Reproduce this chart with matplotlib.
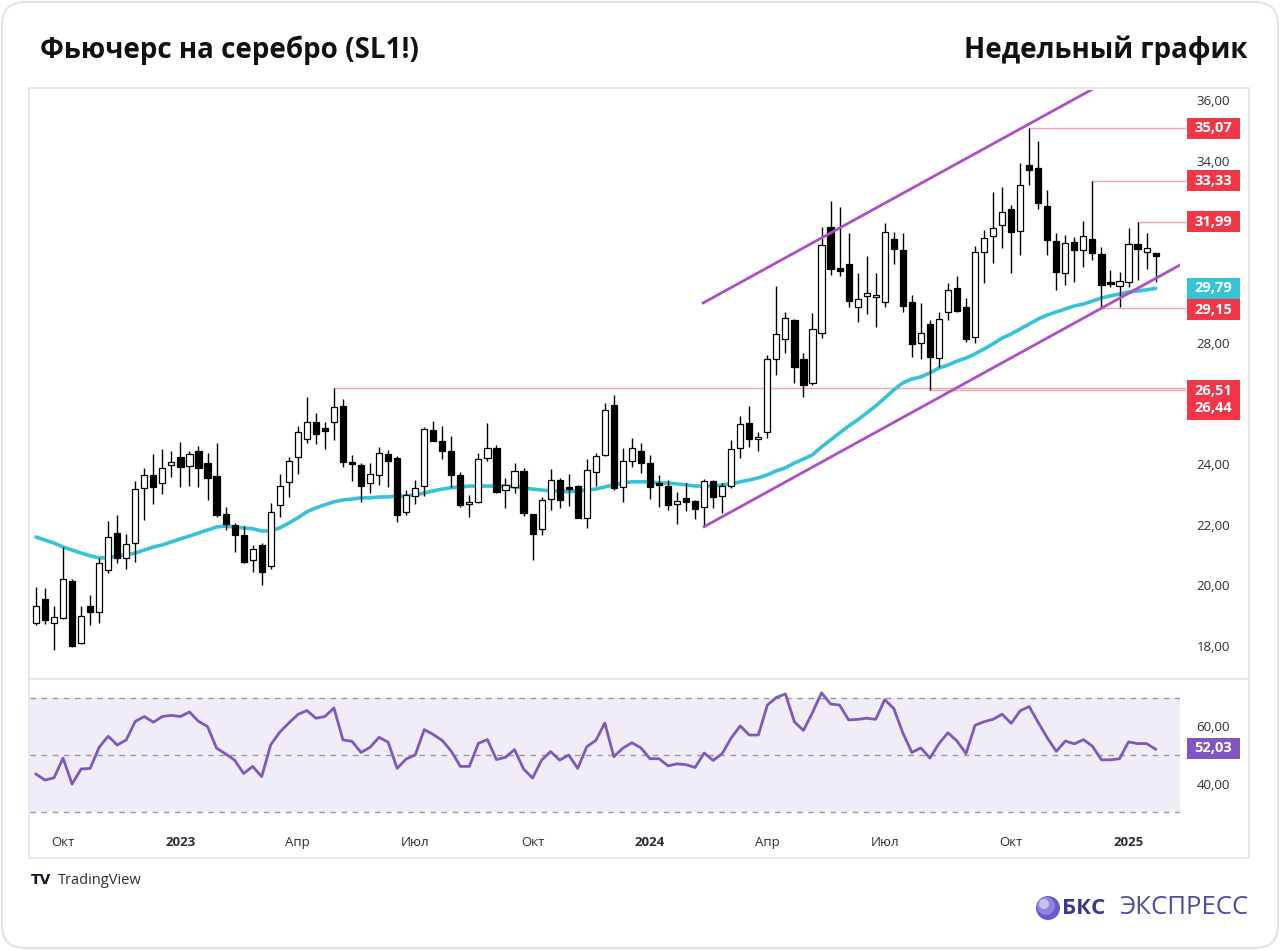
import matplotlib
matplotlib.use("Agg")
import matplotlib.pyplot as plt
from matplotlib.patches import FancyBboxPatch, Rectangle, Circle
from matplotlib.lines import Line2D
from matplotlib.transforms import IdentityTransform, blended_transform_factory

plt.rcParams['font.family'] = ['Open Sans', 'DejaVu Sans']

# Weekly OHLC, silver futures (SL1!), one entry per week
opens = [18.75, 19.54, 18.77, 18.92, 20.14, 18.09, 19.33, 19.13, 20.50, 21.71,
         20.91, 21.38, 23.20, 23.62, 23.36, 23.98, 24.24, 23.94, 24.41, 24.02,
         23.60, 22.34, 21.99, 21.64, 20.83, 21.33, 20.62, 22.65, 23.40, 24.22,
         24.81, 25.39, 25.15, 25.37, 25.91, 24.06, 23.97, 23.36, 23.64, 24.33,
         24.21, 22.40, 22.94, 23.27, 25.12, 24.74, 24.41, 23.64, 22.68, 22.73,
         24.19, 24.54, 23.14, 23.25, 23.78, 22.34, 21.85, 22.84, 23.47, 23.22,
         23.28, 22.23, 23.72, 24.30, 25.94, 23.25, 24.08, 24.43, 24.02, 23.33,
         23.28, 22.68, 22.87, 22.79, 22.57, 23.42, 22.94, 23.27, 24.52, 25.36,
         24.82, 25.06, 27.46, 28.11, 28.73, 27.45, 26.68, 28.33, 31.80, 30.45,
         30.59, 29.19, 29.55, 29.50, 29.35, 31.41, 31.05, 29.35, 28.00, 28.60,
         27.48, 29.02, 29.81, 29.19, 28.20, 31.00, 31.50, 31.88, 32.40, 31.68,
         33.86, 33.77, 32.50, 31.36, 30.29, 31.33, 31.05, 31.41, 30.92, 29.98,
         29.88, 29.99, 31.24, 31.00, 30.95]
highs = [19.94, 19.90, 19.30, 21.27, 20.20, 19.32, 19.68, 20.90, 22.12, 22.32,
         21.68, 23.42, 23.86, 24.33, 24.48, 24.44, 24.73, 24.41, 24.60, 24.37,
         24.70, 22.59, 22.05, 21.94, 21.33, 21.38, 22.70, 23.66, 24.24, 25.25,
         26.20, 25.67, 25.39, 26.51, 26.13, 24.30, 24.02, 24.02, 24.57, 24.46,
         24.25, 23.14, 23.47, 25.23, 25.43, 25.26, 24.92, 23.72, 22.98, 24.37,
         25.34, 24.63, 23.53, 24.02, 23.86, 22.36, 22.92, 23.82, 23.53, 23.67,
         23.30, 24.16, 24.35, 26.00, 26.27, 24.52, 24.85, 24.70, 24.30, 23.64,
         23.47, 23.09, 23.36, 22.82, 23.50, 23.47, 23.36, 24.79, 25.58, 25.91,
         25.06, 27.59, 29.87, 29.02, 28.78, 27.67, 28.97, 31.80, 32.68, 32.48,
         31.60, 30.31, 30.86, 30.29, 31.93, 31.66, 31.60, 29.57, 29.32, 28.75,
         29.02, 29.98, 30.18, 29.46, 31.19, 31.71, 32.98, 33.14, 32.54, 33.91,
         35.07, 34.66, 33.03, 31.60, 31.55, 31.49, 32.01, 33.33, 31.16, 30.39,
         30.32, 31.77, 31.99, 31.63, 30.97]
lows = [18.70, 18.72, 17.87, 18.90, 17.95, 18.05, 18.69, 18.77, 20.39, 20.73,
        20.54, 20.78, 22.15, 22.68, 23.01, 23.58, 23.25, 23.27, 23.25, 22.81,
        22.26, 21.82, 21.11, 20.73, 20.45, 20.00, 20.55, 22.26, 22.92, 23.67,
        24.68, 24.66, 24.49, 24.79, 23.89, 23.45, 22.76, 23.03, 23.31, 23.25,
        22.10, 22.32, 22.68, 22.94, 24.74, 24.16, 23.23, 22.57, 22.26, 22.70,
        24.08, 23.05, 22.54, 23.03, 22.29, 20.83, 21.66, 22.48, 22.54, 22.61,
        22.20, 21.90, 23.27, 24.25, 23.15, 22.76, 23.89, 23.69, 22.84, 22.59,
        22.48, 22.02, 22.46, 22.18, 21.93, 22.54, 22.38, 23.20, 24.19, 24.57,
        24.44, 24.85, 26.93, 27.65, 26.68, 26.22, 26.60, 28.15, 30.23, 30.20,
        29.19, 28.69, 28.94, 28.53, 29.19, 30.59, 29.02, 27.54, 27.45, 26.44,
        27.21, 28.75, 29.00, 28.03, 28.00, 29.98, 30.62, 31.11, 30.31, 30.89,
        33.20, 32.40, 30.89, 29.74, 29.90, 30.01, 30.50, 30.72, 29.15, 29.85,
        29.17, 29.85, 30.07, 30.42, 30.01]
closes = [19.32, 18.86, 18.96, 20.21, 18.01, 19.00, 19.10, 20.74, 21.60, 20.91,
          21.35, 23.17, 23.64, 23.25, 23.86, 24.02, 23.91, 24.33, 23.88, 23.55,
          22.32, 22.02, 21.66, 20.75, 21.19, 20.42, 22.43, 23.28, 24.10, 25.04,
          25.39, 24.99, 25.10, 25.87, 24.07, 24.00, 23.27, 23.67, 24.37, 24.08,
          22.30, 22.98, 23.20, 25.15, 24.77, 24.44, 23.64, 22.65, 22.72, 24.16,
          24.52, 23.09, 23.31, 23.78, 22.38, 21.68, 22.81, 23.47, 22.81, 23.18,
          22.23, 23.80, 24.27, 25.78, 23.20, 24.10, 24.52, 24.02, 23.23, 23.29,
          22.65, 22.79, 22.74, 22.52, 23.42, 22.92, 23.27, 24.48, 25.31, 24.81,
          24.88, 27.45, 28.27, 28.80, 27.21, 26.60, 28.44, 31.22, 30.43, 30.36,
          29.38, 29.43, 29.60, 29.55, 31.66, 31.08, 29.21, 27.95, 28.31, 27.52,
          28.78, 29.74, 29.05, 28.11, 31.00, 31.44, 31.77, 32.32, 31.66, 33.20,
          33.69, 32.62, 31.38, 30.34, 31.28, 31.05, 31.52, 30.97, 29.90, 29.94,
          30.04, 31.24, 31.09, 31.13, 30.85]

# moving average
ma_line = [21.59, 21.49, 21.39, 21.26, 21.16, 21.06, 20.97, 20.90, 20.90, 20.97,
           21.00, 21.06, 21.16, 21.26, 21.33, 21.43, 21.53, 21.62, 21.72, 21.82,
           21.92, 21.95, 21.92, 21.89, 21.86, 21.79, 21.79, 21.89, 22.05, 22.22,
           22.42, 22.55, 22.65, 22.75, 22.81, 22.84, 22.88, 22.88, 22.91, 22.91,
           22.94, 22.94, 22.98, 23.04, 23.11, 23.17, 23.21, 23.24, 23.27, 23.27,
           23.27, 23.27, 23.27, 23.24, 23.21, 23.17, 23.14, 23.11, 23.11, 23.08,
           23.11, 23.14, 23.17, 23.24, 23.31, 23.37, 23.41, 23.41, 23.41, 23.37,
           23.37, 23.34, 23.31, 23.27, 23.27, 23.27, 23.31, 23.34, 23.41, 23.47,
           23.54, 23.64, 23.77, 23.87, 24.03, 24.16, 24.30, 24.56, 24.79, 25.02,
           25.25, 25.45, 25.68, 25.91, 26.17, 26.44, 26.67, 26.80, 26.87, 27.00,
           27.16, 27.26, 27.39, 27.49, 27.63, 27.79, 27.96, 28.15, 28.28, 28.45,
           28.61, 28.78, 28.91, 29.01, 29.11, 29.21, 29.27, 29.37, 29.47, 29.54,
           29.60, 29.67, 29.70, 29.74, 29.79]

# RSI values
rsi = [43.3, 41.2, 42.0, 48.9, 39.8, 45.1, 45.3, 52.7, 56.6, 53.5,
       55.3, 61.8, 63.5, 61.5, 63.5, 63.9, 63.5, 65.1, 61.8, 60.0,
       52.4, 50.4, 48.2, 43.5, 46.0, 42.4, 53.6, 58.0, 61.2, 64.2,
       65.6, 62.9, 63.5, 66.5, 55.3, 54.8, 50.9, 52.7, 56.2, 54.5,
       45.3, 48.6, 50.0, 58.9, 57.2, 55.1, 51.3, 46.0, 46.0, 54.1,
       55.4, 48.4, 49.2, 51.9, 45.1, 41.9, 48.2, 51.2, 48.2, 50.0,
       45.3, 52.9, 55.1, 61.2, 49.4, 52.4, 54.3, 52.5, 48.7, 48.7,
       46.2, 46.9, 46.6, 45.6, 50.7, 48.1, 50.5, 56.0, 60.2, 57.0,
       57.0, 67.5, 70.2, 71.4, 61.6, 58.6, 64.9, 71.8, 67.9, 67.5,
       62.3, 62.5, 62.9, 62.5, 69.4, 66.3, 57.8, 50.9, 52.5, 48.9,
       54.0, 57.8, 54.9, 50.5, 60.4, 61.7, 62.5, 64.3, 61.1, 65.5,
       67.0, 61.4, 56.0, 51.3, 54.9, 53.9, 55.4, 53.1, 48.3, 48.3,
       48.7, 54.6, 54.0, 54.0, 52.03]

# time axis labels (bar index -> label)
tick_idx = [3, 16, 29, 42, 55, 68, 81, 94, 108, 121]
tick_lab = ["Окт", "2023", "Апр", "Июл", "Окт", "2024", "Апр", "Июл", "Окт", "2025"]

# price scale ticks; 26 and 32 sit under the level labels
price_ticks = [18, 20, 22, 24, 28, 30, 34, 36]

# marked levels: (price, bar where the line starts)
levels = [(35.07, 110), (33.33, 117), (31.99, 122), (29.15, 118), (26.51, 33), (26.44, 99)]

# channel lines: (bar, price) endpoints
lower_channel = [(74, 21.93), (127.5, 30.69)]
upper_channel = [(73.9, 29.31), (118.0, 36.52)]

W, H = 1280, 951
fig = plt.figure(figsize=(12.8, 9.51), dpi=100)
fig.patch.set_facecolor('white')


def fx(px):
    return px / W


def fy(py):
    return 1 - py / H


# card outline and chart frame (behind the axes)
fig.patches.append(FancyBboxPatch((fx(2), fy(948)), fx(1276), 946 / H,
                                  boxstyle="round,pad=0,rounding_size=0.018",
                                  transform=fig.transFigure, facecolor='white',
                                  edgecolor='#e4e4e4', lw=1.5, mutation_aspect=1.34,
                                  zorder=-2))
fig.patches.append(Rectangle((fx(29), fy(858)), fx(1220), 770 / H, transform=fig.transFigure,
                             facecolor='none', edgecolor='#e0e3eb', lw=1.2, zorder=-1))
fig.add_artist(Line2D([fx(29), fx(1249)], [fy(679), fy(679)], color='#e0e3eb', lw=1.2,
                      zorder=-1))

ax = fig.add_axes([fx(30), fy(678), fx(1150), 588 / H])
rsi_ax = fig.add_axes([fx(30), fy(828), fx(1150), 148 / H])
ax.set_facecolor('none')
rsi_ax.set_facecolor('none')

xlim = (-0.66, 126.7)
idx = list(range(len(opens)))

# candles: wicks first, bodies on top
ax.vlines(idx, lows, highs, color='black', lw=1.0, zorder=3)
for i in idx:
    o, c = opens[i], closes[i]
    up = c >= o
    body = max(abs(c - o), 0.07)
    ax.bar(i, body, bottom=min(o, c), width=0.68, color='white' if up else 'black',
           edgecolor='black', linewidth=0.9, zorder=4)

# moving average
ax.plot(idx, ma_line, color='#35c3d8', lw=2.6, zorder=2, solid_capstyle='round')

# channel
for line in (lower_channel, upper_channel):
    ax.plot([p[0] for p in line], [p[1] for p in line], color='#b04cc8', lw=2, zorder=5)

# level lines going to the price scale
for price, start in levels:
    ax.plot([start, xlim[1] + 0.5], [price, price], color='#f4a3a9', lw=1,
            zorder=1, clip_on=False)

ax.set_xlim(*xlim)
ax.set_ylim(16.94, 36.33)
ax.set_xticks([])
ax.yaxis.tick_right()
ax.set_yticks(price_ticks)
ax.set_yticklabels([f"{v:.2f}".replace('.', ',') for v in price_ticks])
ax.tick_params(axis='y', length=0, pad=12, labelsize=9.5, labelcolor='#2a2e39')
for s in ax.spines.values():
    s.set_visible(False)

# price labels on the scale: box from x=1187 to 1240 px
bx0 = (1187 - 30) / 1150
bw = 53 / 1150


def scale_label(a, y, text, color, h_px, px_per_unit):
    trans = blended_transform_factory(a.transAxes, a.transData)
    h = h_px / px_per_unit
    a.add_patch(Rectangle((bx0, y - h / 2), bw, h, transform=trans, facecolor=color,
                          edgecolor='none', clip_on=False, zorder=19))
    a.text(bx0 + bw / 2, y, text, transform=trans, ha='center', va='center', color='white',
           fontsize=10.5, fontweight='bold', clip_on=False, zorder=20, linespacing=1.3)


ppu = 588 / (36.33 - 16.94)
scale_label(ax, 35.07, "35,07", '#f23645', 21, ppu)
scale_label(ax, 33.33, "33,33", '#f23645', 21, ppu)
scale_label(ax, 31.99, "31,99", '#f23645', 21, ppu)
scale_label(ax, 29.79, "29,79", '#35c3d8', 21, ppu)
scale_label(ax, 29.09, "29,15", '#f23645', 21, ppu)
scale_label(ax, 26.12, "26,51\n26,44", '#f23645', 40, ppu)

# RSI pane
rsi_ax.axhspan(30, 70, color='#7e57c2', alpha=0.1, lw=0, zorder=0)
for lvl in (70, 50, 30):
    rsi_ax.axhline(lvl, color='#9598a1', lw=1, linestyle=(0, (4, 4)), zorder=1)
rsi_ax.plot(idx, rsi, color='#7e57c2', lw=2, zorder=3)
rsi_ax.set_xlim(*xlim)
rsi_ax.set_ylim(24.4, 76.3)
rsi_ax.yaxis.tick_right()
rsi_ax.set_yticks([40, 60])
rsi_ax.set_yticklabels(["40,00", "60,00"])
rsi_ax.tick_params(axis='y', length=0, pad=12, labelsize=9.5, labelcolor='#2a2e39')
rsi_ax.set_xticks(tick_idx)
rsi_ax.set_xticklabels(tick_lab)
rsi_ax.tick_params(axis='x', length=0, pad=6, labelsize=9.5, labelcolor='#2a2e39')
for lab in rsi_ax.get_xticklabels():
    if lab.get_text().isdigit():
        lab.set_fontweight('bold')
for s in rsi_ax.spines.values():
    s.set_visible(False)
scale_label(rsi_ax, 52.3, "52,03", '#7e57c2', 21, 148 / (76.3 - 24.4))

# titles
fig.text(fx(40), fy(50), "Фьючерс на серебро (SL1!)", fontsize=20, fontweight='bold',
         va='center', ha='left', color='#111111')
fig.text(fx(1248), fy(50), "Недельный график", fontsize=20, fontweight='bold',
         va='center', ha='right', color='#111111')

# footer
fig.text(fx(31), fy(880), "TV", fontsize=10, fontweight='heavy', va='center', color='#131722',
         family='DejaVu Sans')
fig.text(fx(58), fy(880), "TradingView", fontsize=10.5, va='center', color='#2a2e39')

for r, col, dx, dy in [(12, '#6a5acd', 0, 0), (9, '#8f84e0', -2, 2), (5, '#c8c2f3', -4, 4)]:
    fig.add_artist(Circle((1048 + dx, H - 908 + dy), r, transform=IdentityTransform(),
                          facecolor=col, edgecolor='none', zorder=5))
fig.text(fx(1062), fy(908), "БКС", fontsize=16, fontweight='bold', va='center',
         color='#3b3597')
fig.text(fx(1248), fy(908), "ЭКСПРЕСС", fontsize=18.5, va='center', ha='right',
         color='#4f4aa3')

fig.savefig('out.png', dpi=100)
